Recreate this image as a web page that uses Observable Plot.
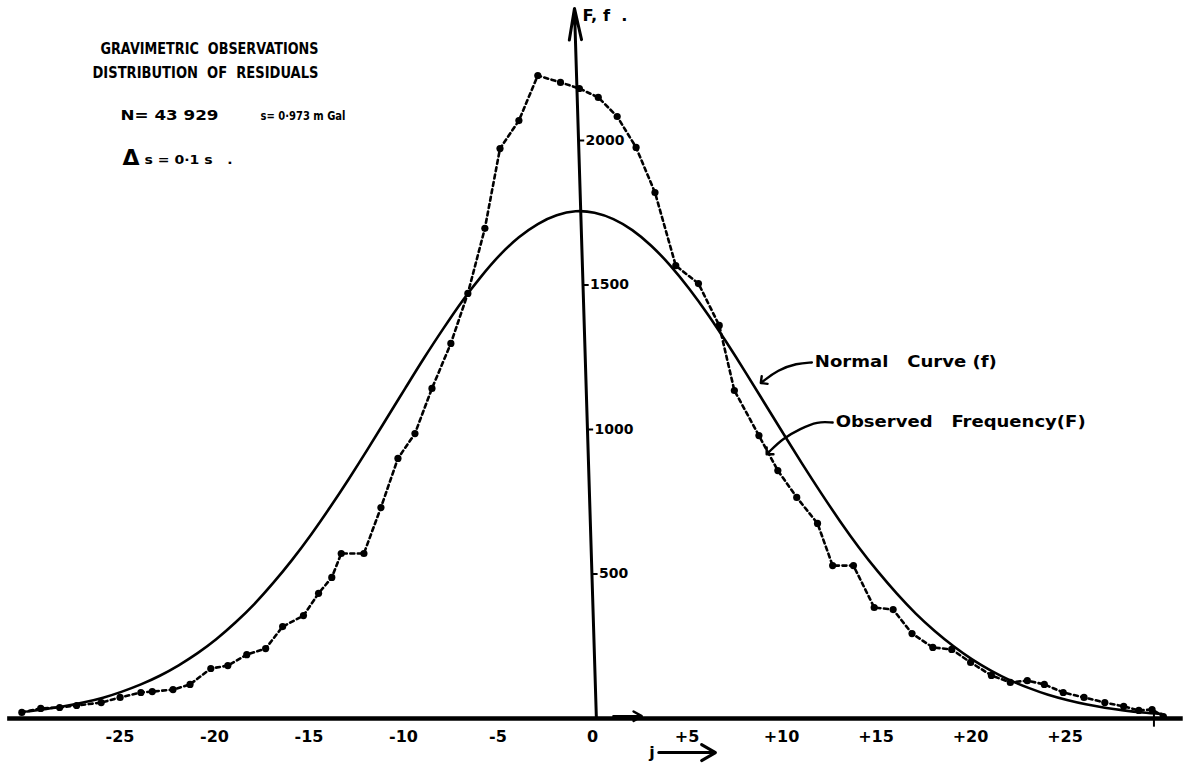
<!DOCTYPE html>
<html><head><meta charset="utf-8">
<script src="https://cdn.jsdelivr.net/npm/d3@7"></script>
<script src="https://cdn.jsdelivr.net/npm/@observablehq/plot@0.6"></script>
<style>
html,body{margin:0;padding:0;background:#fff;}
#chart{width:1189px;height:764px;overflow:hidden;}
svg text{font-family:"DejaVu Sans",sans-serif;font-weight:bold;white-space:pre;}
</style></head><body><div id="chart"></div>
<script>
// ---- data ----
const normalX = [-30,-29,-28,-27,-26,-25,-24,-23,-22,-21,-20,-19,-18,-17,-16,-15,-14,-13,-12,-11,-10,-9,-8,-7,-6,-5,-4,-3,-2,-1,0,1,2,3,4,5,6,7,8,9,10,11,12,13,14,15,16,17,18,19,20,21,22,23,24,25,26,27,28,29,30];
const normalF = [24,33,43,56,72,93,118,148,184,226,275,332,396,469,549,636,730,829,932,1038,1144,1249,1349,1444,1529,1604,1665,1711,1741,1755,1750,1728,1690,1636,1568,1488,1398,1300,1197,1091,985,880,779,682,591,508,432,363,303,250,204,165,132,105,82,64,49,37,28,21,16];

const obsX = [-30.3,-29.3,-28.3,-27.4,-26.1,-25.1,-24.0,-23.4,-22.3,-21.4,-20.3,-19.4,-18.4,-17.4,-16.5,-15.4,-14.6,-13.9,-13.4,-12.2,-11.3,-10.4,-9.5,-8.6,-7.6,-6.7,-5.8,-5.0,-4.0,-3.0,-1.8,-0.8,0.2,1.2,2.2,3.2,4.3,5.5,6.6,7.4,8.7,9.7,10.7,11.8,12.6,13.7,14.8,15.8,16.8,17.9,18.9,19.9,21.0,22.0,22.9,23.8,24.8,25.9,27.0,28.0,28.8,29.5,30.1];
const obsF = [21,35,38,45,55,73,90,93,100,118,173,183,221,242,318,356,433,488,571,571,730,900,986,1142,1298,1471,1696,1972,2069,2225,2201,2180,2149,2083,1976,1820,1567,1505,1360,1135,979,858,765,675,529,529,384,377,294,246,239,194,149,125,131,118,90,73,55,42,28,31,7];

const xTickValues = [-25,-20,-15,-10,-5,0,5,10,15,20,25];
const xTickLabels = ["-25","-20","-15","-10","-5","0","+5","+10","+15","+20","+25"];
const yTickValues = [500,1000,1500,2000];
const yTickLabels = ["500","1000","1500","2000"];

const titleLines = ["GRAVIMETRIC  OBSERVATIONS","DISTRIBUTION  OF  RESIDUALS"];
const statsLeft = "N= 43 929";
const statsRight = "s= 0·973 m Gal";
const deltaLabel = "Δ";
const deltaText = "s = 0·1 s   .";
const normalLabel = "Normal   Curve (f)";
const observedLabel = "Observed   Frequency(F)";
const yAxisLabel = "F, f  .";
const xAxisLabel = "j";

// axis line (slightly slanted as drawn) and leader lines
const yAxisLine = [{x1: 0.1, y1: 0, x2: -1.06, y2: 2457}];
const normalLeader = [{x: 11.5, y: 1232}, {x: 10.7, y: 1229}, {x: 9.7, y: 1206}, {x: 8.9, y: 1166}];
const observedLeader = [{x: 12.6, y: 1024}, {x: 11.8, y: 1028}, {x: 10.9, y: 1003}, {x: 9.95, y: 969}, {x: 9.2, y: 920}];
const jArrow = [{x1: 3.4, x2: 6.4, y: -118}];
const zeroArrow = [{x1: 1.0, x2: 2.5, y: 8}];
const axisEnd = [{x: 29.6}];

// ---- build ----
const normal = normalX.map((x, i) => ({x, f: normalF[i]}));
const observed = obsX.map((x, i) => ({x, f: obsF[i]}));
const a = yAxisLine[0];
const axisXAt = v => a.x1 + (v - a.y1) / (a.y2 - a.y1) * (a.x2 - a.x1);

const pxPerX = 18.9, x0px = 594, pxPerY = 0.289, y0px = 718, W = 1189, H = 764;

const chart = Plot.plot({
  width: W, height: H, margin: 0,
  x: {domain: [-x0px / pxPerX, (W - x0px) / pxPerX], axis: null},
  y: {domain: [(y0px - H) / pxPerY, y0px / pxPerY], axis: null},
  style: {background: "white", color: "black"},
  marks: [
    // x axis
    Plot.ruleY([0], {x1: -31.05, x2: 31.15, stroke: "black", strokeWidth: 4.5}),
    Plot.ruleX(axisEnd, {x: "x", y1: -30, y2: 25, stroke: "black", strokeWidth: 2}),
    Plot.arrow(zeroArrow, {x1: "x1", x2: "x2", y1: "y", y2: "y", stroke: "black", strokeWidth: 2.5, headLength: 6}),
    // y axis
    Plot.arrow(yAxisLine, {x1: "x1", y1: "y1", x2: "x2", y2: "y2", stroke: "black", strokeWidth: 3, headLength: 16, headAngle: 22}),
    Plot.link(yTickValues, {x1: d => axisXAt(d), x2: d => axisXAt(d) + 0.3, y1: d => d, y2: d => d, stroke: "black", strokeWidth: 2}),
    Plot.text(yTickValues, {x: d => axisXAt(d), y: d => d, text: (d, i) => yTickLabels[i], textAnchor: "start", dx: 7, fontSize: 14, fontWeight: "bold"}),
    Plot.text(xTickValues, {x: d => d, y: 0, text: (d, i) => xTickLabels[i], dy: 18, dx: -2, fontSize: 16, fontWeight: "bold"}),
    // normal curve
    Plot.line(normal, {x: "x", y: "f", curve: "natural", stroke: "black", strokeWidth: 2.6}),
    // observed frequency
    Plot.line(observed, {x: "x", y: "f", stroke: "black", strokeWidth: 2.6, strokeDasharray: "4,3.5"}),
    Plot.dot(observed, {x: "x", y: "f", r: 3.6, fill: "black", stroke: "none"}),
    // leaders and labels
    Plot.line(normalLeader, {x: "x", y: "y", curve: "basis", stroke: "black", strokeWidth: 2.4, markerEnd: "arrow"}),
    Plot.line(observedLeader, {x: "x", y: "y", curve: "basis", stroke: "black", strokeWidth: 2.4, markerEnd: "arrow"}),
    Plot.text([normalLabel], {x: normalLeader[0].x, y: normalLeader[0].y, textAnchor: "start", dx: 3, fontSize: 15, fontWeight: "bold"}),
    Plot.text([observedLabel], {x: observedLeader[0].x, y: observedLeader[0].y, textAnchor: "start", dx: 3, fontSize: 15, fontWeight: "bold"}),
    // axis names
    Plot.text([yAxisLabel], {frameAnchor: "top-left", dx: 582, dy: 15, textAnchor: "start", lineAnchor: "middle", fontSize: 16, fontWeight: "bold"}),
    Plot.text([xAxisLabel], {x: jArrow[0].x1, y: jArrow[0].y, textAnchor: "end", dx: -4, fontSize: 16, fontWeight: "bold"}),
    Plot.arrow(jArrow, {x1: "x1", x2: "x2", y1: "y", y2: "y", stroke: "black", strokeWidth: 3, headLength: 8}),
    // title block
    Plot.text([titleLines[0]], {frameAnchor: "top-left", dx: 100, dy: 48, textAnchor: "start", lineAnchor: "middle", fontSize: 16, fontWeight: "bold"}),
    Plot.text([titleLines[1]], {frameAnchor: "top-left", dx: 92, dy: 72, textAnchor: "start", lineAnchor: "middle", fontSize: 16, fontWeight: "bold"}),
    Plot.text([statsLeft], {frameAnchor: "top-left", dx: 120, dy: 115, textAnchor: "start", lineAnchor: "middle", fontSize: 14, fontWeight: "bold"}),
    Plot.text([statsRight], {frameAnchor: "top-left", dx: 260, dy: 115, textAnchor: "start", lineAnchor: "middle", fontSize: 13, fontWeight: "bold"}),
    Plot.text([deltaLabel], {frameAnchor: "top-left", dx: 122, dy: 157, textAnchor: "start", lineAnchor: "middle", fontSize: 22, fontWeight: "bold"}),
    Plot.text([deltaText], {frameAnchor: "top-left", dx: 144, dy: 160, textAnchor: "start", lineAnchor: "middle", fontSize: 12, fontWeight: "bold"})
  ]
});

const lengths = new Map([
  [titleLines[0], 218], [titleLines[1], 226], [statsLeft, 98], [statsRight, 85], [deltaText, 88],
  [normalLabel, 182], [observedLabel, 250], [yAxisLabel, 45]
]);
chart.querySelectorAll("text").forEach(t => {
  const L = lengths.get(t.textContent);
  if (L) { t.setAttribute("textLength", L); t.setAttribute("lengthAdjust", "spacingAndGlyphs"); }
});
document.getElementById("chart").append(chart);
</script>
</body></html>
